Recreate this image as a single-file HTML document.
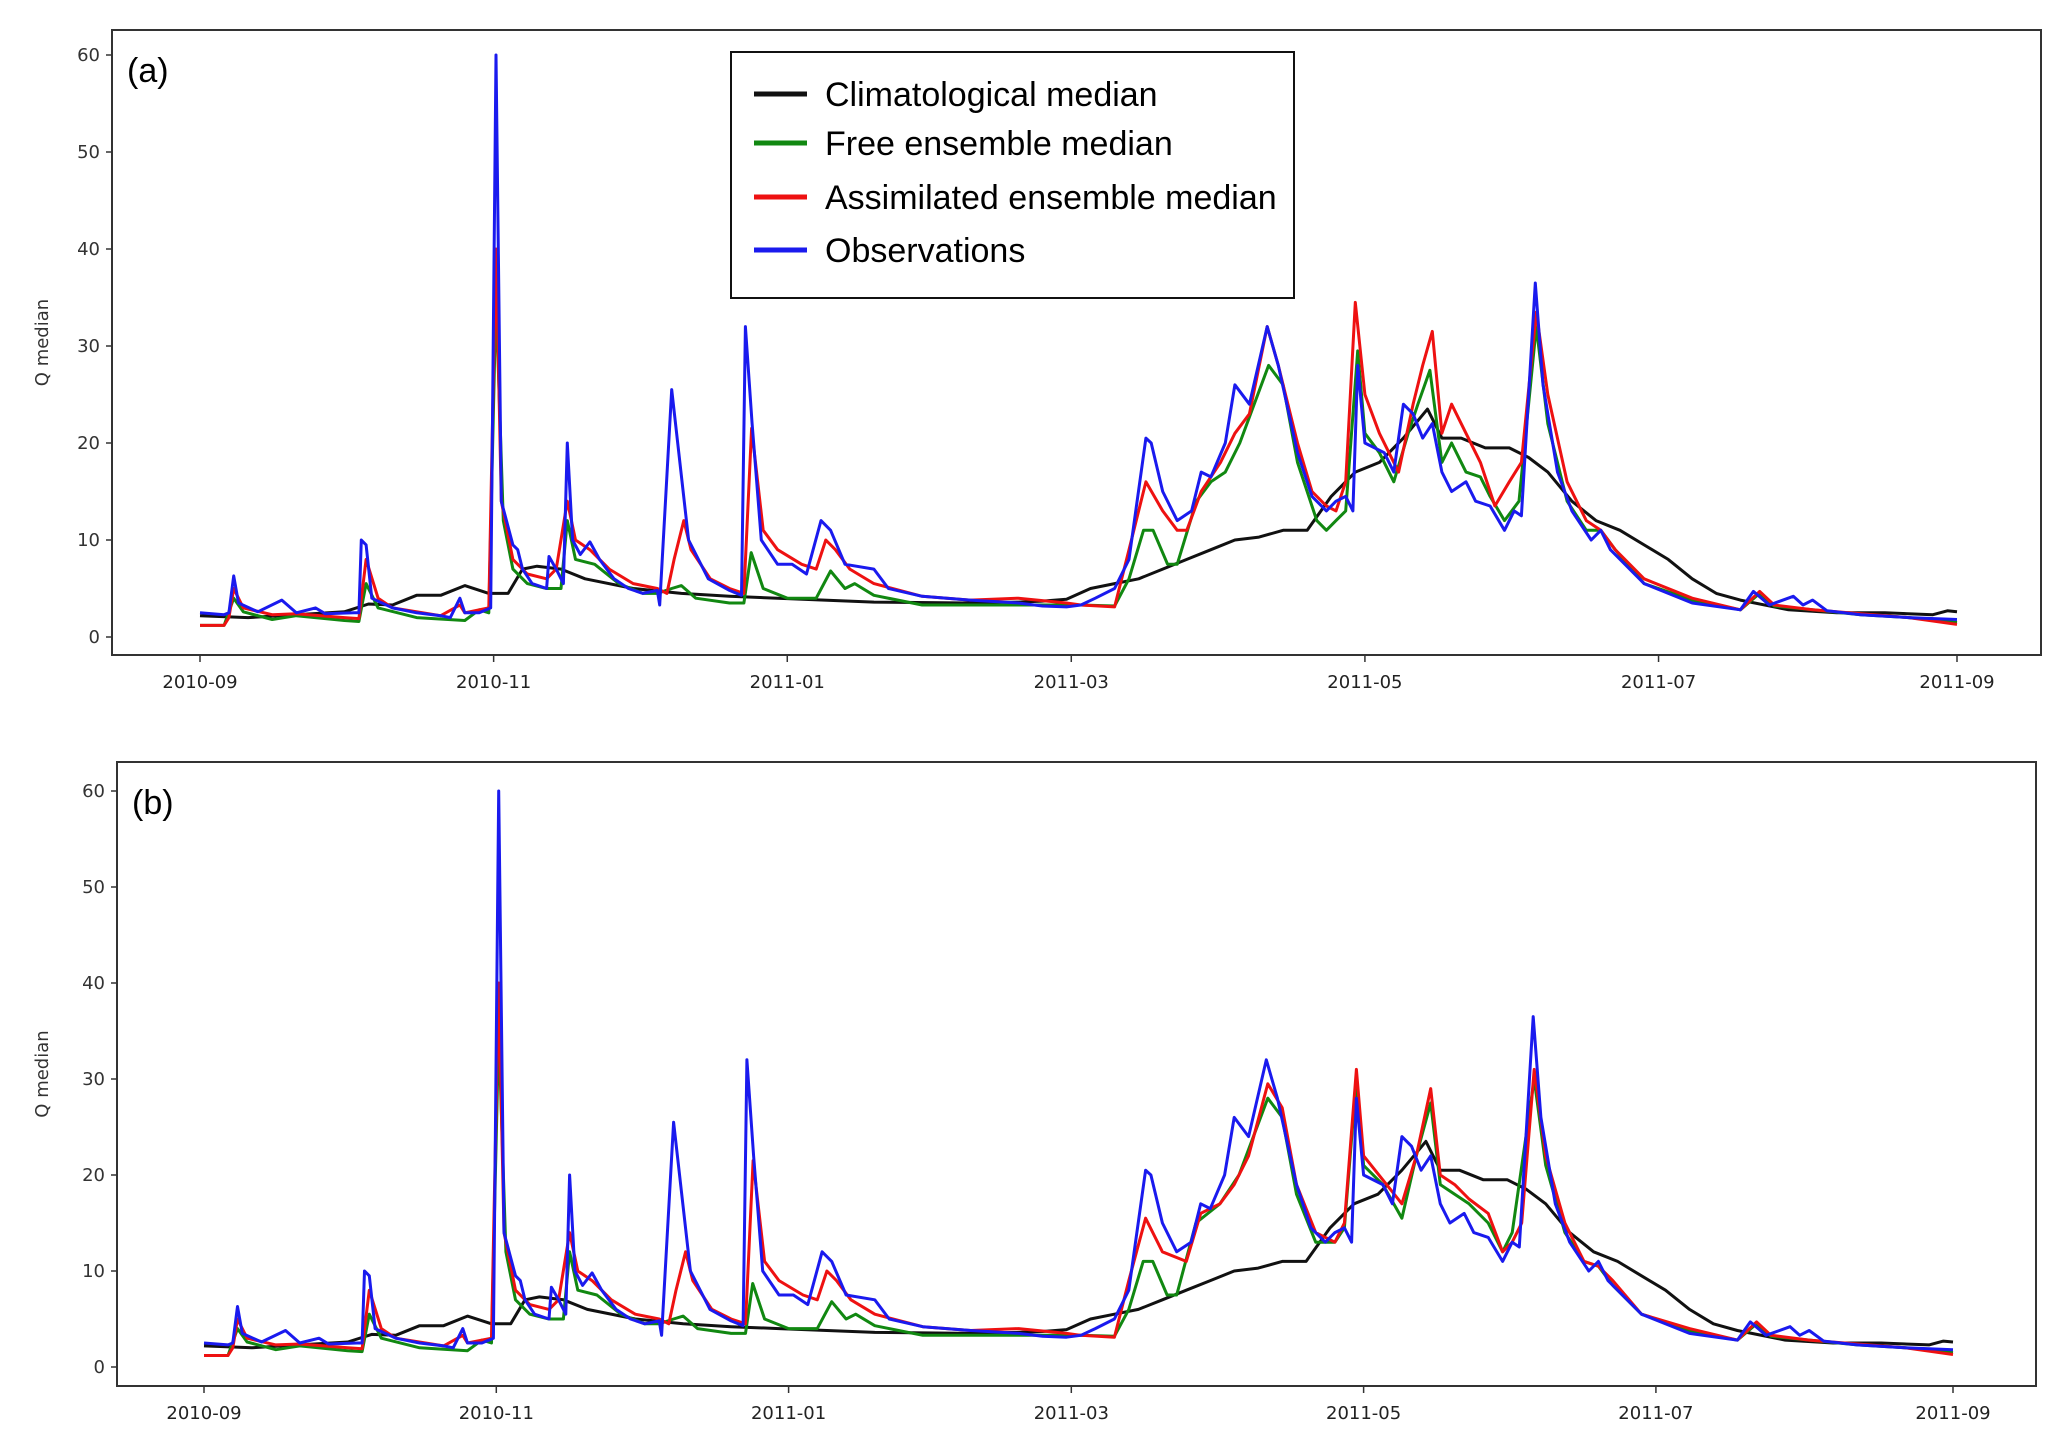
<!DOCTYPE html>
<html><head><meta charset="utf-8">
<style>
html,body{margin:0;padding:0;background:#fff;}
svg{display:block;}
text{font-family:"DejaVu Sans","Liberation Sans",sans-serif;}
</style></head>
<body>
<svg id="chart" width="2067" height="1444" viewBox="0 0 2067 1444" xmlns="http://www.w3.org/2000/svg">
<g id="panelA"></g>
<g id="panelB"></g>
</svg>
<script>
// ---- data (day offset from 2010-09-01, discharge) ----
const xTickLabels = ["2010-09","2010-11","2011-01","2011-03","2011-05","2011-07","2011-09"];
const xTickDays = [0,61,122,181,242,303,365];
const yTickValues = [0,10,20,30,40,50,60];

const obsDays = [0,5,6,7,8,12,17,20,24,26,32,33,33.5,34.5,35.7,40,45,50,52,54,55,58,60.4,61.5,62.6,65,66,67,69,72,72.5,74,75.5,76.3,77.4,79,81,83,86,89,92,95,95.5,98,101.5,105.6,110,112.5,113.3,114.7,116.6,120,123,126,129,131,134,140,143,150,160,170,175,180,183,186,190,193,196.5,197.6,200,203,206,208,210,213,215,218,221.7,224,228,231,234,236,238,239.5,240.5,242,246,248,250,252,254,256,258,260,263,265,268,271,273,274.5,277.4,279,282,285,289,291,293,300,310,320,322.7,326,331,333,335,338,345,355,365];
const obsVals = [2.5,2.3,2.5,6.3,3.5,2.6,3.8,2.5,3,2.4,2.5,2.5,10,9.5,4,3,2.5,2.2,2.0,4,2.5,2.5,3,60,14,9.5,9,7,5.5,5,8.3,7,5.5,20,10,8.5,9.8,8,6,5,4.5,4.8,3.3,25.5,10,6,4.8,4.3,32,22,10,7.5,7.5,6.5,12,11,7.5,7,5,4.2,3.8,3.5,3.2,3.1,3.3,4,5,8,20.5,20,15,12,13,17,16.5,20,26,24,32,28,19,14.5,13,14,14.5,13,28,20,19,17,24,23,20.5,22,17,15,16,14,13.5,11,13,12.5,36.5,26,17,13,10,11,9,5.5,3.5,2.8,4.7,3.3,4.2,3.3,3.8,2.7,2.3,2,1.8];

const climDays = [0,10,20,30,35,40,45,50,55,60,64,67,70,75,80,90,100,110,120,140,160,170,175,180,185,190,195,200,205,210,215,220,225,230,235,240,245,250,255,258,262,267,272,276,280,285,290,295,300,305,310,315,320,330,340,350,360,363,365];
const climVals = [2.2,2,2.3,2.6,3.4,3.3,4.3,4.3,5.3,4.5,4.5,7,7.3,7,6,5,4.5,4.2,4,3.6,3.5,3.6,3.7,3.9,5,5.5,6,7,8,9,10,10.3,11,11,14.5,17,18,20.5,23.5,20.5,20.5,19.5,19.5,18.5,17,14,12,11,9.5,8,6,4.5,3.8,2.8,2.5,2.5,2.3,2.7,2.6];

const assimADays = [0,5,6,7,9,15,20,30,33,34.5,37,40,50,54,55,60,61.5,62.6,65,68,72,74,76.3,78,81,85,90,95,97,98.5,100.5,102,106,110,113,114.6,117,120,125,128,130,132,135,140,150,160,170,180,183,190,193,196.5,200,203,205,208,212,215,218,221.7,224,228,231,234,236,238,240,242,245,249,252,254,256,258,260,263,266,269,272,274.5,277.6,280,284,288,291,294,300,310,320,324,327,335,345,355,365];
const assimAVals = [1.2,1.2,2,5,3,2.3,2.4,2,1.9,8,4,3,2.2,3.3,2.5,3,40,14,8,6.5,6,7,14,10,9,7,5.5,5,4.5,8,12,9,6,5,4.5,21.5,11,9,7.5,7,10,9,7,5.5,4.2,3.8,4,3.5,3.3,3.1,9,16,13,11,11,15,18,21,23,32,28,20,15,13.5,13,16,34.5,25,21,17,24,28,31.5,21,24,21,18,13.5,16,18,33.5,25,16,12,11,9,6,4,2.8,4.7,3.3,2.8,2.4,2,1.3];

const freeADays = [0,5,7,9,15,20,30,33,34.5,37,45,55,58,60,61.5,63,65,68,72,75,76.3,78,82,87,92,95,98,100,103,110,113,114.5,117,122,128,131,134,136,140,150,165,183,190,193,196,198,201,203,207,210,213,216,222,225,228,232,234,236,238,240.5,242,245,248,251,253,255.5,258,260,263,266,268,271,274,277.6,280,284,288,291,294,300,310,320,324,327,335,345,355,365];
const freeAVals = [1.2,1.2,4,2.6,1.8,2.2,1.7,1.6,5.5,3,2,1.7,2.8,2.5,35,12,7,5.5,5,5,12,8,7.5,5.5,4.5,4.5,5,5.3,4,3.5,3.5,8.7,5,4,4,6.8,5,5.5,4.3,3.3,3.3,3.3,3.2,6,11,11,7.5,7.5,14,16,17,20,28,26,18,12,11,12,13,29.5,21,19,16,21,24,27.5,18,20,17,16.5,14.5,12,14,32,22,14,11,11,9,5.5,3.8,2.8,4.5,3.2,2.8,2.3,2,1.5];

const assimBDays = [0,5,6,7,9,15,20,30,33,34.5,37,40,50,54,55,60,61.5,62.6,65,68,72,74,76.3,78,81,85,90,95,97,98.5,100.5,102,106,110,113,114.6,117,120,125,128,130,132,135,140,150,160,170,180,183,190,193,196.5,200,205,208,212,215,218,222,225,228,232,236,238,240.5,242,246,250,253,256,258,261,264,268,271,273,275,277.6,280,284,288,291,294,300,310,320,324,327,335,345,355,365];
const assimBVals = [1.2,1.2,2,5,3,2.3,2.4,2,1.9,8,4,3,2.2,3.3,2.5,3,40,14,8,6.5,6,7,14,10,9,7,5.5,5,4.5,8,12,9,6,5,4.5,21.5,11,9,7.5,7,10,9,7,5.5,4.2,3.8,4,3.5,3.3,3.1,9,15.5,12,11,16,17,19,22,29.5,27,19,14,13,15,31,22,19.5,17,22,29,20,19,17.5,16,12,13,15,31,22,15,11,10.5,9,5.5,4,2.8,4.7,3.3,2.8,2.4,2,1.3];

const freeBDays = [0,5,7,9,15,20,30,33,34.5,37,45,55,58,60,61.5,63,65,68,72,75,76.3,78,82,87,92,95,98,100,103,110,113,114.5,117,122,128,131,134,136,140,150,165,183,190,193,196,198,201,203,207,212,216,222,225,228,232,236,238,240.5,242,246,250,253,256,258,261,264,268,271,273,277.6,280,284,288,291,294,300,310,320,324,327,335,345,355,365];
const freeBVals = [1.2,1.2,4,2.6,1.8,2.2,1.7,1.6,5.5,3,2,1.7,2.8,2.5,35,12,7,5.5,5,5,12,8,7.5,5.5,4.5,4.5,5,5.3,4,3.5,3.5,8.7,5,4,4,6.8,5,5.5,4.3,3.3,3.3,3.3,3.2,6,11,11,7.5,7.5,15,17,20,28,26,18,13,13,14.5,30,21,19,15.5,22,27.5,19,18,17,15,12,14,30,21,14,11,10.5,8.5,5.5,3.8,2.8,4.5,3.2,2.8,2.3,2,1.5];

const legendLabels = ["Climatological median","Free ensemble median","Assimilated ensemble median","Observations"];

const NS = "http://www.w3.org/2000/svg";
function mk(tag, attrs, parent){const e=document.createElementNS(NS,tag);for(const k in attrs)e.setAttribute(k,attrs[k]);parent.appendChild(e);return e;}

const COL = {clim:"#111111", free:"#118811", assim:"#ee1111", obs:"#1a1aee"};

function drawPanel(g, box, label, series, withLegend){
  const xs = d => box.x0 + (d - 0) / 365 * (box.x365 - box.x0);
  const ys = v => box.y0 - v / 60 * (box.y0 - box.y60);
  const fr = mk("rect",{x:box.l,y:box.t,width:box.r-box.l,height:box.b-box.t,fill:"none",stroke:"#333",'stroke-width':2},g);
  
  
  yTickValues.forEach(v=>{
    const y=ys(v);
    const t=mk("line",{x1:box.l-6,x2:box.l,y1:y,y2:y,stroke:"#333",'stroke-width':1.5},g);
    
    
    const tx=mk("text",{x:box.l-12,y:y+6,'text-anchor':'end','font-size':18,fill:"#333"},g);
    tx.textContent=v;
    
    
  });
  xTickDays.forEach((d,i)=>{
    const x=xs(d);
    const t=mk("line",{x1:x,x2:x,y1:box.b,y2:box.b+7,stroke:"#333",'stroke-width':1.5},g);
    
    
    const tx=mk("text",{x:x,y:box.b+33,'text-anchor':'middle','font-size':18,fill:"#222"},g);
    tx.textContent=xTickLabels[i];
    
    
  });
  const cy=(box.t+box.b)/2;
  const yl=mk("text",{x:0,y:0,transform:`translate(48,${cy}) rotate(-90)`,'text-anchor':'middle','font-size':18,fill:"#333"},g);
  yl.textContent="Q median";
  
  
  const pl=mk("text",{x:box.l+15,y:box.t+52,'font-size':34,fill:"#000",style:'font-family:"Liberation Sans",sans-serif'},g);
  pl.textContent=label;
  
  
  series.forEach(s=>{
    const pts=s.days.map((d,i)=>xs(d).toFixed(1)+","+ys(s.vals[i]).toFixed(1)).join(" ");
    const p=mk("polyline",{points:pts,fill:"none",stroke:s.color,'stroke-width':3,'stroke-linejoin':'round'},g);
    
    
  });
  if(withLegend){
    const lg=mk("g",{},g);
    
    
    mk("rect",{x:731,y:52,width:563,height:246,fill:"#fff",stroke:"#111",'stroke-width':2},lg);
    const cols=[COL.clim,COL.free,COL.assim,COL.obs];
    const rowY=[94,143,197,250];
    legendLabels.forEach((lab,i)=>{
      const e=mk("g",{},lg);
      
      
      mk("line",{x1:754,x2:807,y1:rowY[i],y2:rowY[i],stroke:cols[i],'stroke-width':5},e);
      const t=mk("text",{x:825,y:rowY[i]+12,'font-size':34,fill:"#000",style:'font-family:"Liberation Sans",sans-serif'},e);
      t.textContent=lab;
    });
  }
}

const boxA={l:112,t:30,r:2041,b:655,x0:200,x365:1957,y0:637,y60:55};
const boxB={l:117,t:762,r:2036,b:1386,x0:204,x365:1953,y0:1367,y60:791};

drawPanel(document.getElementById("panelA"), boxA, "(a)", [
  {name:"climatological-median-line-a",days:climDays,vals:climVals,color:COL.clim},
  {name:"free-ensemble-line-a",days:freeADays,vals:freeAVals,color:COL.free},
  {name:"assimilated-ensemble-line-a",days:assimADays,vals:assimAVals,color:COL.assim},
  {name:"observations-line-a",days:obsDays,vals:obsVals,color:COL.obs}
], true);
drawPanel(document.getElementById("panelB"), boxB, "(b)", [
  {name:"climatological-median-line-b",days:climDays,vals:climVals,color:COL.clim},
  {name:"free-ensemble-line-b",days:freeBDays,vals:freeBVals,color:COL.free},
  {name:"assimilated-ensemble-line-b",days:assimBDays,vals:assimBVals,color:COL.assim},
  {name:"observations-line-b",days:obsDays,vals:obsVals,color:COL.obs}
], false);
</script>
</body></html>
